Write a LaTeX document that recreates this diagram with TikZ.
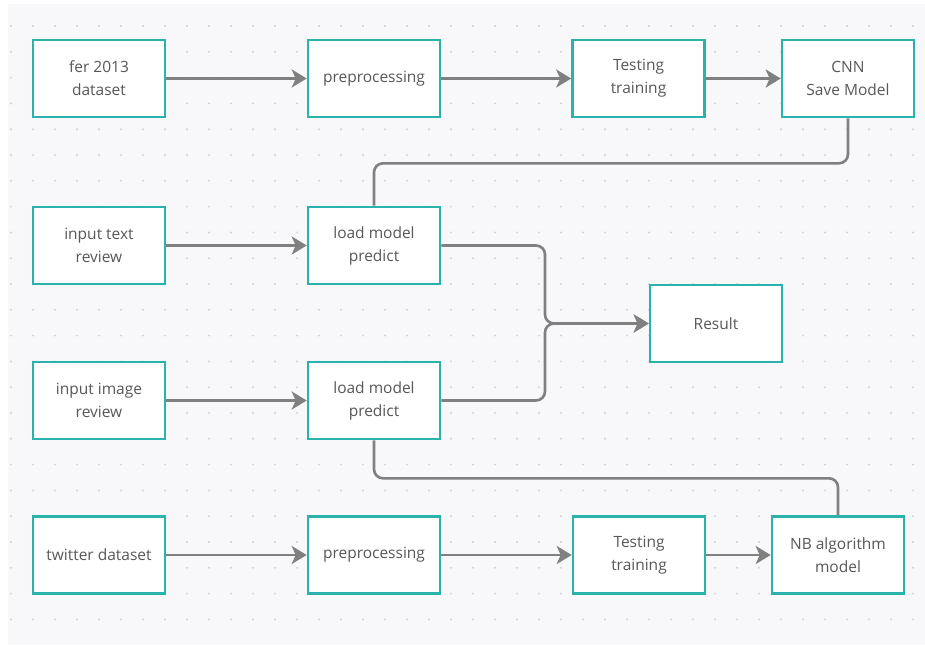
\documentclass[tikz,border=0pt]{standalone}
\usepackage{fontspec}
\setmainfont{Open Sans}
\usepackage{xcolor}
\usetikzlibrary{positioning, arrows.meta}
\definecolor{boxteal}{RGB}{42,178,172}
\definecolor{linegray}{RGB}{128,128,128}
\definecolor{textgray}{RGB}{88,88,88}
\definecolor{panelbg}{RGB}{248,248,250}
\definecolor{dotgray}{RGB}{212,212,216}

\begin{document}
\begin{tikzpicture}[x=1pt, y=-1pt,
    box/.style={rectangle, draw=boxteal, line width=2.6pt, fill=white, minimum width=132pt, minimum height=77pt, align=center, text=textgray, font=\fontsize{15.5}{23}\selectfont},
    link/.style={draw=linegray, line width=2.6pt, rounded corners=9pt},
    flow/.style={link, -{Stealth[length=15pt, width=18pt, inset=4pt]}}]
            \useasboundingbox (0,0) rectangle (925,645);
            \fill[panelbg] (8,4) rectangle (925,645);
            \foreach \i in {0,...,41}
                \foreach \j in {0,...,23}
                    \fill[dotgray] (11+22*\i, 26+25.8*\j) circle (1.1pt);

            \node[box] (fer) at (99, 78.5) {fer 2013\\dataset};
            \node[box] (pre1) at (374, 78.5) {preprocessing};
            \node[box] (tt1) at (638.5, 78.5) {Testing\\training};
            \node[box] (cnn) at (848, 78.5) {CNN\\Save Model};
            \node[box] (txt) at (99, 245.5) {input text\\review};
            \node[box] (lm1) at (374, 245.5) {load model\\predict};
            \node[box] (res) at (716, 323.5) {Result};
            \node[box] (img) at (99, 400.5) {input image\\review};
            \node[box] (lm2) at (374, 400.5) {load model\\predict};
            \node[box] (tw) at (99, 555) {twitter dataset};
            \node[box] (pre2) at (374, 555) {preprocessing};
            \node[box] (tt2) at (639, 555) {Testing\\training};
            \node[box] (nb) at (838, 555) {NB algorithm\\model};
            \coordinate (merge) at (545, 323.5);

            \draw[flow] (fer) -- (pre1);
            \draw[flow] (pre1) -- (tt1);
            \draw[flow] (tt1) -- (cnn);
            \draw[link] (cnn.south) -- ++(0, 45) -| (lm1.north);
            \draw[flow] (txt) -- (lm1);
            \draw[flow] (img) -- (lm2);
            \draw[flow] (lm1.east) -| (merge) -- (res.west);
            \draw[flow] (lm2.east) -| (merge) -- (res.west);
            \draw[link] (lm2.south) -- ++(0, 38) -| (nb.north);
            \draw[flow] (tw) -- (pre2);
            \draw[flow] (pre2) -- (tt2);
            \draw[flow] (tt2) -- (nb);
        \end{tikzpicture}
\end{document}
